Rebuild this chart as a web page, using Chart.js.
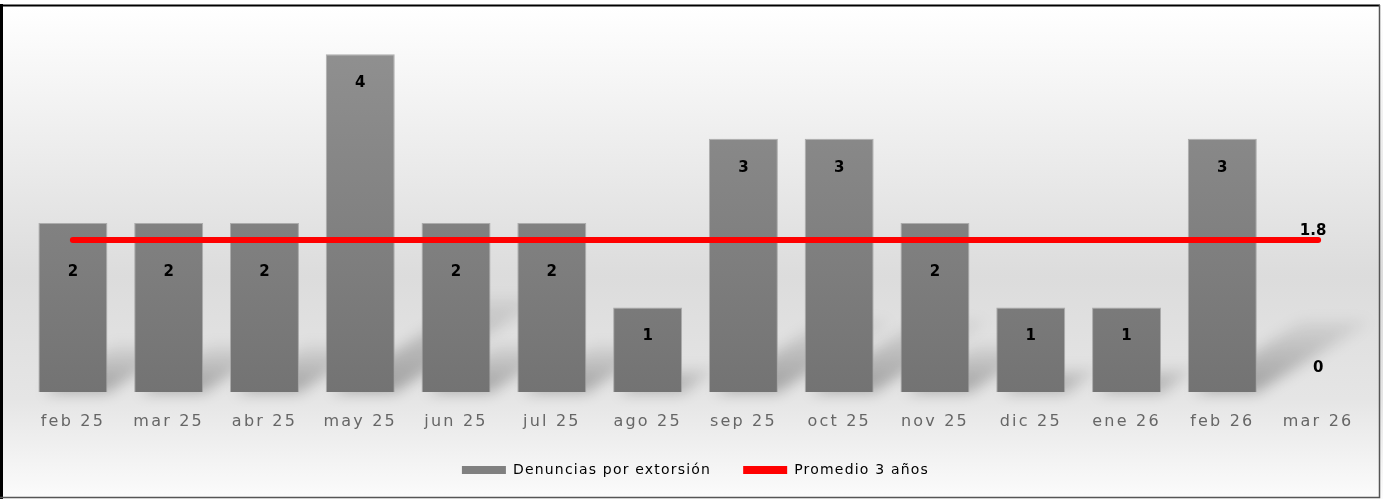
<!DOCTYPE html>
<html><head><meta charset="utf-8">
<script src="https://cdn.jsdelivr.net/npm/chart.js@4.4.1/dist/chart.umd.min.js"></script>
<style>
html,body{margin:0;padding:0;background:#fff;}
#wrap{position:relative;width:1383px;height:499px;}
</style></head>
<body><div id="wrap"><canvas id="c" width="1383" height="499"></canvas></div>
<script>
const categories = ['feb 25','mar 25','abr 25','may 25','jun 25','jul 25','ago 25','sep 25','oct 25','nov 25','dic 25','ene 26','feb 26','mar 26'];
const denuncias = [2,2,2,4,2,2,1,3,3,2,1,1,3,0];
const promedio = [1.8,1.8,1.8,1.8,1.8,1.8,1.8,1.8,1.8,1.8,1.8,1.8,1.8,1.8];
const seriesNames = ['Denuncias por extorsión','Promedio 3 años'];

const FONT = '"DejaVu Sans", sans-serif';

const bgPlugin = {
  id:'bg',
  beforeLayout(chart){ chart.ctx.letterSpacing = '1.2px'; },
  beforeDraw(chart){
    const ctx = chart.ctx, W = chart.width, H = chart.height;
    ctx.save();
    const g = ctx.createLinearGradient(0,7,0,496);
    g.addColorStop(0,'#ffffff');
    g.addColorStop(0.55,'#dcdcdc');
    g.addColorStop(0.8,'#e5e5e5');
    g.addColorStop(1,'#fbfbfb');
    ctx.fillStyle = g;
    ctx.fillRect(0,0,W,H);
    ctx.strokeStyle = '#000'; ctx.lineWidth = 3;
    ctx.beginPath(); ctx.moveTo(1.5,4); ctx.lineTo(1.5,H); ctx.stroke();
    ctx.lineWidth = 2;
    ctx.beginPath(); ctx.moveTo(0,5.5); ctx.lineTo(W-3,5.5); ctx.stroke();
    ctx.strokeStyle = '#555'; ctx.lineWidth = 1.5;
    ctx.beginPath(); ctx.moveTo(1379.5,5); ctx.lineTo(1379.5,497.5); ctx.lineTo(0,497.5); ctx.stroke();
    ctx.restore();
    ctx.letterSpacing = '1.2px';
  }
};

const shadowPlugin = {
  id:'shadow',
  beforeDatasetsDraw(chart){
    const ctx = chart.ctx;
    const meta = chart.getDatasetMeta(0);
    ctx.save();
    ctx.filter = 'blur(7px)';
    meta.data.forEach(bar=>{
      const h = bar.base - bar.y;
      if (h <= 0) return;
      const left = bar.x - bar.width/2, right = bar.x + bar.width/2;
      const dx = h*0.45, dy = h*0.28;
      const g = ctx.createLinearGradient(0,bar.base,0,bar.base-dy);
      g.addColorStop(0,'rgba(0,0,0,0.3)');
      g.addColorStop(1,'rgba(0,0,0,0.05)');
      ctx.fillStyle = g;
      ctx.beginPath();
      ctx.moveTo(left+6,bar.base);
      ctx.lineTo(right,bar.base);
      ctx.lineTo(right+dx,bar.base-dy);
      ctx.lineTo(left+dx,bar.base-dy);
      ctx.closePath();
      ctx.fill();
    });
    ctx.restore();
  }
};

const labelPlugin = {
  id:'labels',
  afterDatasetsDraw(chart){
    const ctx = chart.ctx;
    const barMeta = chart.getDatasetMeta(0);
    const lineMeta = chart.getDatasetMeta(1);
    ctx.save();
    ctx.letterSpacing = '0px';
    ctx.font = 'bold 15px ' + FONT;
    ctx.fillStyle = '#000';
    ctx.textAlign = 'center';
    ctx.textBaseline = 'middle';
    barMeta.data.forEach((bar,i)=>{
      const v = denuncias[i];
      const lineY = lineMeta.data[i].y;
      let y;
      if (v === 0) { y = bar.base - 24; }
      else {
        y = bar.y + 29;
        if (Math.abs(y - lineY) < 20) y = lineY + 32;
      }
      ctx.fillText(String(v), bar.x, y);
    });
    const last = lineMeta.data[lineMeta.data.length-1];
    ctx.fillText(String(promedio[promedio.length-1]), last.x - 5, last.y - 9);
    ctx.restore();
    ctx.letterSpacing = '2.2px';
  }
};

const ctx = document.getElementById('c').getContext('2d');
new Chart(ctx, {
  data:{
    labels: categories,
    datasets:[
      {
        type:'bar', label: seriesNames[0], data: denuncias, order:2,
        backgroundColor(c){
          const ca = c.chart.chartArea;
          if(!ca) return '#808080';
          const g = c.chart.ctx.createLinearGradient(0,ca.top,0,ca.bottom);
          g.addColorStop(0,'#939393');
          g.addColorStop(1,'#737373');
          return g;
        },
        borderColor:'rgba(165,165,165,0.9)', borderWidth:1,
        barPercentage:0.72, categoryPercentage:1.0
      },
      {
        type:'line', label: seriesNames[1], data: promedio, order:1,
        borderColor:'#ff0000', backgroundColor:'#ff0000', borderWidth:6,
        pointRadius:0, borderCapStyle:'round', tension:0
      }
    ]
  },
  options:{
    responsive:false, animation:false,
    layout:{padding:{left:25,right:17,top:12,bottom:12}},
    scales:{
      x:{ grid:{display:false, drawTicks:false}, border:{display:false},
          afterFit(scale){ scale.height = 39; },
          ticks:{z:1, color:'#666', font:{family:FONT,size:16}, padding:20, maxRotation:0, autoSkip:false}},
      y:{ display:false, min:0, max:4.5 }
    },
    plugins:{
      legend:{ position:'bottom',
        labels:{ color:'#444', font:{family:FONT,size:14}, boxWidth:44, boxHeight:8, padding:32,
          generateLabels(chart){
            return chart.data.datasets.map((d,i)=>({
              text:d.label, fillStyle: i===0 ? '#808080' : '#ff0000',
              strokeStyle: i===0 ? '#808080' : '#ff0000', lineWidth:0, datasetIndex:i, hidden:false
            }));
          }
        }
      },
      tooltip:{enabled:false}
    }
  },
  plugins:[bgPlugin, shadowPlugin, labelPlugin]
});
</script></body></html>
